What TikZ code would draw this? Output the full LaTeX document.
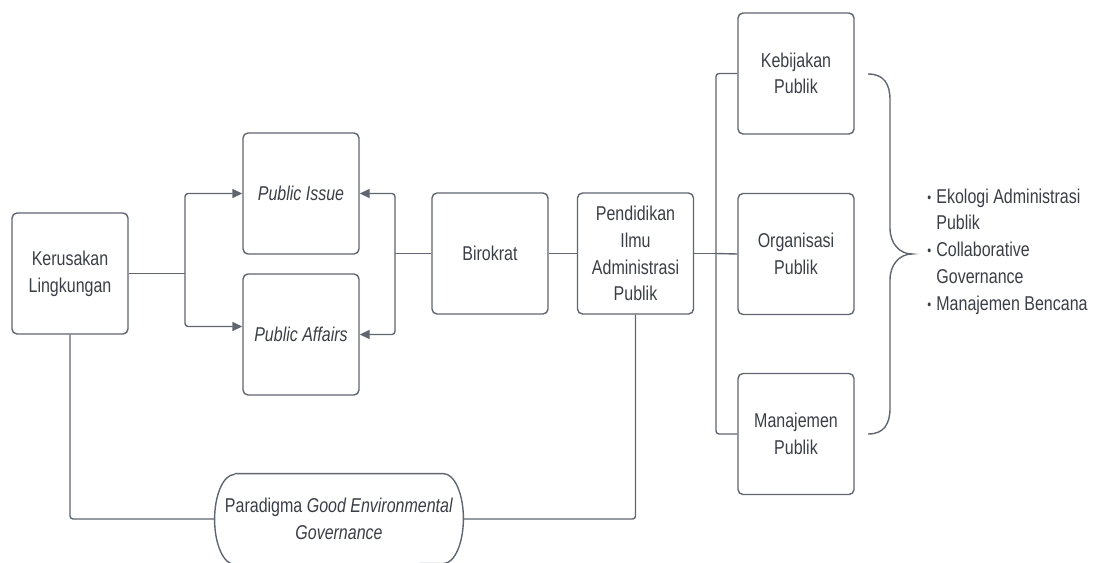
\documentclass[tikz,border=0pt]{standalone}
\usepackage{fontspec}
\setmainfont{Liberation Sans}[FakeStretch=0.8]
\usepackage{tikz}
\usetikzlibrary{arrows.meta,calc}
\definecolor{garisC}{HTML}{5F666F}
\definecolor{teksC}{HTML}{3A3F46}
\newcommand{\butir}{\makebox[4.5pt][l]{\raisebox{0.5pt}{\scriptsize\textbullet}}}

\tikzset{
    kotak/.style={draw=garisC, line width=0.7pt, rounded corners=2.5pt,
        minimum width=58pt, minimum height=60.5pt, inner sep=1pt,
        align=center, text=teksC},
    garis/.style={draw=garisC, line width=0.7pt, rounded corners=1.5pt},
    panah/.style={garis, -{Triangle[length=5pt,width=4.5pt]}}
}

\begin{document}
\begin{tikzpicture}[x=0.5pt, y=-0.5pt, font=\fontsize{10}{13.35}\selectfont]
        \useasboundingbox (0,0) rectangle (1097,562);
        %Kotak
        \node[kotak] (ker) at (70,273.5) {Kerusakan\\Lingkungan};
        \node[kotak] (pi) at (301,193.5) {\textit{Public Issue}};
        \node[kotak] (pa) at (301,334.5) {\textit{Public Affairs}};
        \node[kotak] (bir) at (490,253.5) {Birokrat};
        \node[kotak] (pen) at (635.5,253.5) {Pendidikan\\Ilmu\\Administrasi\\Publik};
        \node[kotak] (keb) at (796,73.5) {Kebijakan\\Publik};
        \node[kotak] (org) at (796,254) {Organisasi\\Publik};
        \node[kotak] (man) at (796,434) {Manajemen\\Publik};
        %Paradigma
        \node[minimum width=124pt, minimum height=45pt, inner sep=0pt, align=center,
            text=teksC] (par) at (339,519)
            {Paradigma \textit{Good Environmental}\\\textit{Governance}};
        \draw[draw=garisC, line width=0.7pt]
            ([xshift=10pt]par.north west) -- ([xshift=-10pt]par.north east)
            arc[start angle=90, end angle=-90, x radius=10pt, y radius=22.5pt]
            -- ([xshift=10pt]par.south west)
            arc[start angle=-90, end angle=-270, x radius=10pt, y radius=22.5pt];
        %Daftar
        \node[anchor=west, align=left, text=teksC, inner sep=0pt] (daf) at (927,251.5)
            {\butir Ekologi Administrasi\\\hspace*{4.5pt}Publik\\
             \butir Collaborative\\\hspace*{4.5pt}Governance\\
             \butir Manajemen Bencana};
        %Kurung kurawal
        \draw[draw=garisC, line width=0.7pt]
            (868,74) .. controls (884,74) and (890,84) .. (890,100) -- (890,228)
            .. controls (890,244) and (900,254) .. (912,254)
            .. controls (900,254) and (890,264) .. (890,280) -- (890,408)
            .. controls (890,424) and (884,434) .. (868,434);
        %Garis
        \coordinate (kj) at (185,273.5);
        \coordinate (bj) at (395,253.5);
        \coordinate (pj) at (716,253.5);
        \draw[garis] (ker.east) -- (kj);
        \draw[panah] (kj) |- (pi.west);
        \draw[panah] (kj) |- ([yshift=4pt]pa.west);
        \draw[garis] (bir.west) -- (bj);
        \draw[panah] (bj) |- (pi.east);
        \draw[panah] (bj) |- (pa.east);
        \draw[garis] (bir.east) -- (pen.west);
        \draw[garis] (pen.east) -- (pj);
        \draw[garis] (pj) |- (keb.west);
        \draw[garis] (pj) -- (org.west);
        \draw[garis] (pj) |- (man.west);
        \draw[garis] (ker.south) |- (par.west);
        \draw[garis] (pen.south) |- (par.east);
    \end{tikzpicture}
\end{document}
